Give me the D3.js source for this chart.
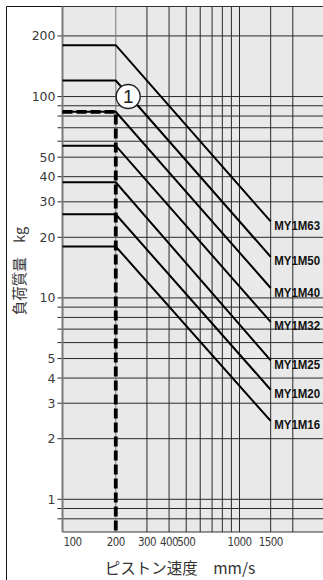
<!DOCTYPE html>
<html><head><meta charset="utf-8">
<script src="https://cdn.jsdelivr.net/npm/d3@7"></script>
<style>html,body{margin:0;padding:0;background:#fff;overflow:hidden}</style>
</head><body>
<svg id="c" width="323" height="580"></svg>
<script>
// ---- data ----
const models   = ["MY1M63","MY1M50","MY1M40","MY1M32","MY1M25","MY1M20","MY1M16"];
const flatLoad = [180, 120, 84, 57, 37.5, 26, 18];      // kg, from 100 to 200 mm/s
const endLoad  = [24, 16, 11.2, 7.6, 4.9, 3.5, 2.45];   // kg at 1500 mm/s
const speedStart = 100, speedKnee = 200, speedEnd = 1500;
const exampleSpeed = 200, exampleLoad = 84, exampleMark = "1";
const xTickLabels = [100, 200, 300, 400, 500, 1000, 1500];
const xGridValues = [200, 300, 400, 500, 600, 700, 800, 900, 1000, 1500, 2000];
const yTickLabels = [200, 100, 50, 40, 30, 20, 10, 5, 4, 3, 2, 1];
const yGridValues = [200, 100, 90, 80, 70, 60, 50, 40, 30, 20, 10, 9, 8, 7, 6, 5, 4, 3, 2, 1, 0.9, 0.8];
const xDomain = [100, 3000];
const yDomain = [0.688, 280];
const yTitle = "負荷質量　kg";
const xTitle = "ピストン速度　mm/s";

// ---- drawing ----
const svg = d3.select("#c");
const L = 62.5, T = 6.5, B = 532;
const x = d3.scaleLog().domain(xDomain).range([L, L + 177 * Math.log10(xDomain[1] / xDomain[0])]);
const y = d3.scaleLog().domain(yDomain).range([B, T]);

// outer frame
svg.append("path").attr("d", `M6.5,580 V6.5 H330`).attr("fill", "none").attr("stroke", "#111").attr("stroke-width", 1);

// plot background
svg.append("rect").attr("x", L).attr("y", T).attr("width", x.range()[1] - L + 5).attr("height", B - T)
  .attr("fill", "#e9e9e9");

// horizontal grid (with tick stubs)
svg.append("g").selectAll("line").data(yGridValues).join("line")
  .attr("x1", L - 5).attr("x2", 330)
  .attr("y1", d => y(d)).attr("y2", d => y(d))
  .attr("stroke", "#2a2a2a").attr("stroke-width", 1);

// vertical grid
svg.append("g").selectAll("line").data(xGridValues).join("line")
  .attr("x1", d => x(d)).attr("x2", d => x(d))
  .attr("y1", T).attr("y2", B)
  .attr("stroke", d => d === exampleSpeed ? "#777" : "#2a2a2a").attr("stroke-width", 1);

// plot borders
svg.append("line").attr("x1", L).attr("x2", 330).attr("y1", T).attr("y2", T).attr("stroke", "#333");
svg.append("line").attr("x1", L).attr("x2", 330).attr("y1", B).attr("y2", B).attr("stroke", "#333");
svg.append("line").attr("x1", L).attr("x2", L).attr("y1", T).attr("y2", B).attr("stroke", "#7a7a7a").attr("stroke-width", 2);

// y tick labels
svg.append("g").selectAll("text").data(yTickLabels).join("text")
  .attr("x", 55.5).attr("y", d => y(d)).attr("dy", "0.36em")
  .attr("text-anchor", "end")
  .attr("font-family", "DejaVu Sans, sans-serif").attr("font-size", 12.5)
  .attr("fill", "#3a3a3a").text(d => d);

// x tick labels
svg.append("g").selectAll("text").data(xTickLabels).join("text")
  .attr("x", d => d === xDomain[0] ? x(d) + 1 : x(d))
  .attr("y", 546)
  .attr("text-anchor", d => d === xDomain[0] ? "start" : "middle")
  .attr("font-family", "DejaVu Sans Condensed, DejaVu Sans, sans-serif").attr("font-size", 11.5)
  .attr("letter-spacing", -0.6)
  .attr("fill", "#3a3a3a").text(d => d);

// series lines
const line = d3.line().x(d => x(d[0])).y(d => y(d[1]));
const series = models.map((m, i) => ({
  name: m,
  pts: [[speedStart, flatLoad[i]], [speedKnee, flatLoad[i]], [speedEnd, endLoad[i]]]
}));
svg.append("g").selectAll("path").data(series).join("path")
  .attr("d", d => line(d.pts))
  .attr("fill", "none").attr("stroke", "#000").attr("stroke-width", 2)
  .attr("stroke-linejoin", "miter");

// labels
svg.append("g").selectAll("text").data(series).join("text")
  .attr("x", x(speedEnd) + 3.5)
  .attr("y", d => y(d.pts[2][1]) + 4)
  .attr("dy", "0.36em")
  .attr("font-family", "Liberation Sans, Arial, sans-serif").attr("font-weight", "bold")
  .attr("font-size", 12.5).attr("textLength", 46).attr("lengthAdjust", "spacingAndGlyphs")
  .attr("fill", "#111").text(d => d.name);

// example dashed path
svg.append("path")
  .attr("d", line([[speedStart, exampleLoad], [exampleSpeed, exampleLoad]]) + `V${B}`)
  .attr("fill", "none").attr("stroke", "#000").attr("stroke-width", 3.8)
  .attr("stroke-dasharray", "10,4");

// circled marker
const cx = x(235), cy = y(100);
svg.append("circle").attr("cx", cx).attr("cy", cy).attr("r", 12)
  .attr("fill", "#fff").attr("stroke", "#222").attr("stroke-width", 1.4);
svg.append("text").attr("x", cx).attr("y", cy).attr("dy", "0.36em").attr("text-anchor", "middle")
  .attr("font-family", "Liberation Sans, Arial, sans-serif").attr("font-size", 19)
  .attr("fill", "#222").text(exampleMark);

// axis titles
svg.append("text").attr("transform", "translate(25,271) rotate(-90)")
  .attr("text-anchor", "middle")
  .attr("font-family", "Noto Sans CJK JP, sans-serif").attr("font-size", 14.5)
  .attr("fill", "#333").text(yTitle);
svg.append("text").attr("x", 180).attr("y", 574)
  .attr("text-anchor", "middle")
  .attr("font-family", "Noto Sans CJK JP, sans-serif").attr("font-size", 15.5)
  .attr("fill", "#333").text(xTitle);
</script>
</body></html>
